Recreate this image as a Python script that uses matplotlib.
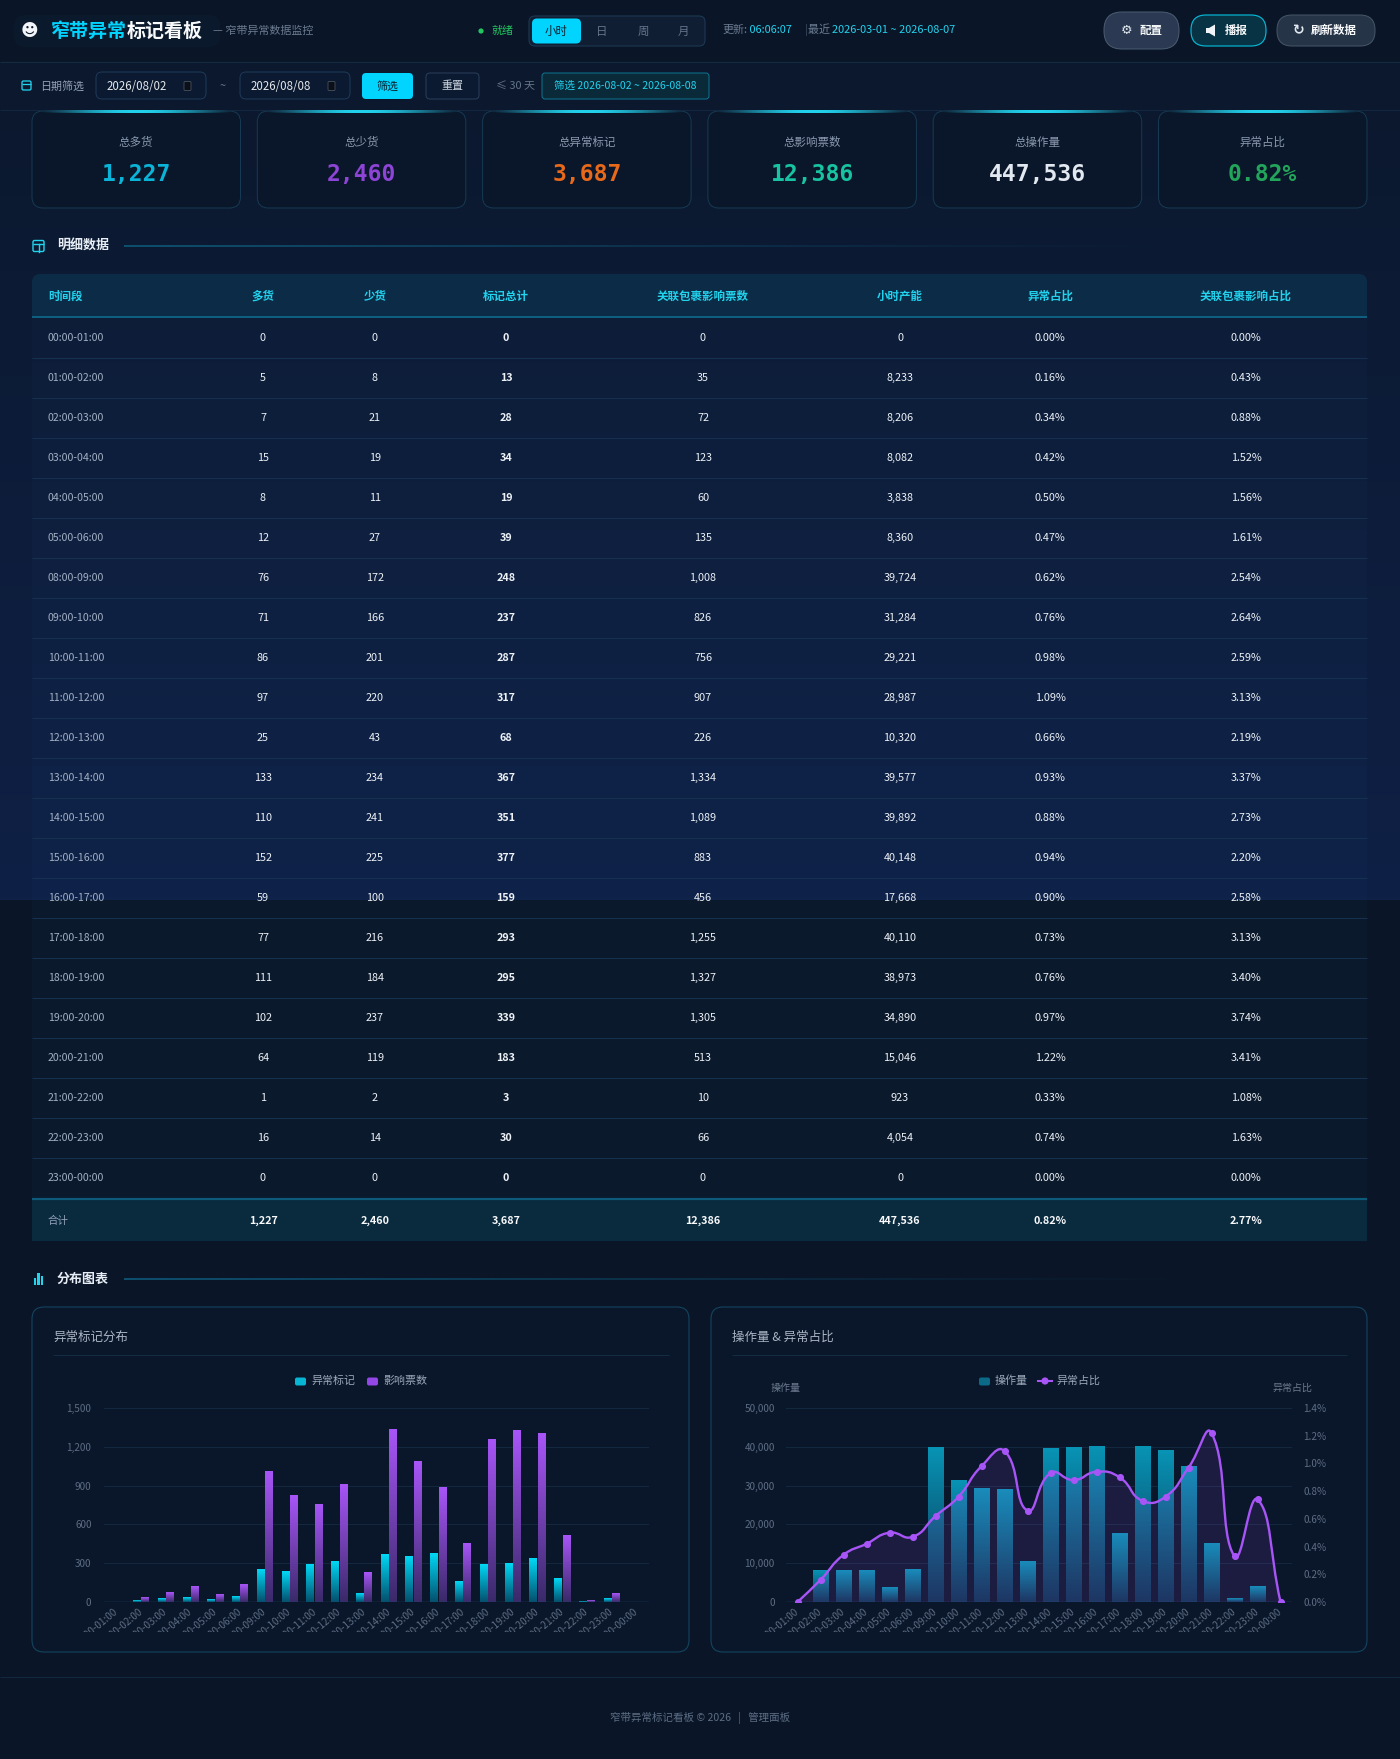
import numpy as np
import matplotlib

matplotlib.use("Agg")
import matplotlib.pyplot as plt
from matplotlib import transforms
from matplotlib.colors import to_rgb
from matplotlib.patches import FancyBboxPatch, Rectangle, Circle, PathPatch, Polygon
from matplotlib.path import Path

W, H = 1400, 1759

# ---- values ----
periods = ["00:00-01:00", "01:00-02:00", "02:00-03:00", "03:00-04:00", "04:00-05:00",
           "05:00-06:00", "08:00-09:00", "09:00-10:00", "10:00-11:00", "11:00-12:00",
           "12:00-13:00", "13:00-14:00", "14:00-15:00", "15:00-16:00", "16:00-17:00",
           "17:00-18:00", "18:00-19:00", "19:00-20:00", "20:00-21:00", "21:00-22:00",
           "22:00-23:00", "23:00-00:00"]
over_goods = [0, 5, 7, 15, 8, 12, 76, 71, 86, 97, 25, 133, 110, 152, 59, 77, 111, 102, 64, 1, 16, 0]
short_goods = [0, 8, 21, 19, 11, 27, 172, 166, 201, 220, 43, 234, 241, 225, 100, 216, 184, 237, 119, 2, 14, 0]
mark_total = [0, 13, 28, 34, 19, 39, 248, 237, 287, 317, 68, 367, 351, 377, 159, 293, 295, 339, 183, 3, 30, 0]
tickets = [0, 35, 72, 123, 60, 135, 1008, 826, 756, 907, 226, 1334, 1089, 883, 456, 1255, 1327, 1305, 513, 10, 66, 0]
capacity = [0, 8233, 8206, 8082, 3838, 8360, 39724, 31284, 29221, 28987, 10320, 39577, 39892, 40148,
            17668, 40110, 38973, 34890, 15046, 923, 4054, 0]
abn_rate = [0.00, 0.16, 0.34, 0.42, 0.50, 0.47, 0.62, 0.76, 0.98, 1.09, 0.66, 0.93, 0.88, 0.94,
            0.90, 0.73, 0.76, 0.97, 1.22, 0.33, 0.74, 0.00]
ticket_rate = [0.00, 0.43, 0.88, 1.52, 1.56, 1.61, 2.54, 2.64, 2.59, 3.13, 2.19, 3.37, 2.73, 2.20,
               2.58, 3.13, 3.40, 3.74, 3.41, 1.08, 1.63, 0.00]

kpi_labels = ["总多货", "总少货", "总异常标记", "总影响票数", "总操作量", "异常占比"]
kpi_values = ["1,227", "2,460", "3,687", "12,386", "447,536", "0.82%"]
table_cols = ["时间段", "多货", "少货", "标记总计", "关联包裹影响票数", "小时产能", "异常占比", "关联包裹影响占比"]
total_row = ["合计", "1,227", "2,460", "3,687", "12,386", "447,536", "0.82%", "2.77%"]
left_ticks = [0, 300, 600, 900, 1200, 1500]
vol_ticks = [0, 10000, 20000, 30000, 40000, 50000]
rate_ticks = [0.0, 0.2, 0.4, 0.6, 0.8, 1.0, 1.2, 1.4]

plt.rcParams["font.family"] = ["Noto Sans CJK SC", "DejaVu Sans"]

BG = "#0a1628"
CYAN = "#00d4ff"
kpi_colors = ["#0ab4d8", "#8e44d6", "#e8691a", "#17c3a2", "#e2e8f0", "#22a55a"]


def fs(px):
    return px * 0.72


fig = plt.figure(figsize=(W / 100, H / 100), dpi=100)
fig.patch.set_facecolor(BG)
cv = fig.add_axes([0, 0, 1, 1])
cv.set_axis_off()


def rbox(x, y, w, h, r, fc, ec="none", lw=1.0, z=2, alpha=1.0):
    p = FancyBboxPatch((x, y), w, h, boxstyle=f"round,pad=0,rounding_size={r}",
                       fc=fc, ec=ec, lw=lw * 0.72, zorder=z, alpha=alpha)
    cv.add_patch(p)
    return p


def txt(x, y, s, px, color, ha="left", va="center", weight="normal", family=None, z=6):
    kw = {"family": family} if family else {}
    return cv.text(x, y, s, fontsize=fs(px), color=color, ha=ha, va=va,
                   fontweight=weight, zorder=z, **kw)


def chain(prev, s, px, color, weight="normal", gap=0):
    return cv.annotate(s, xy=(1, 0.5), xycoords=prev, xytext=(gap, 0), textcoords="offset pixels",
                       ha="left", va="center", fontsize=fs(px), color=color, fontweight=weight, zorder=6)


def hline(x0, x1, y, color, lw=1.0, z=3, alpha=1.0):
    cv.plot([x0, x1], [y, y], color=color, lw=lw * 0.72, zorder=z, alpha=alpha, solid_capstyle="butt")


def fade_line(x0, x1, y, color, hgt=1.2, mode="out", z=3):
    n = 300
    t = np.linspace(0, 1, n)
    a = np.sin(np.pi * t) ** 1.3 if mode == "glow" else (1 - t) ** 1.2
    rgba = np.zeros((1, n, 4))
    rgba[..., :3] = to_rgb(color)
    rgba[0, :, 3] = a
    cv.imshow(rgba, extent=[x0, x1, y + hgt / 2, y - hgt / 2], aspect="auto", zorder=z,
              interpolation="bilinear")


# ---- page background ----
g = np.linspace(0, 1, 256)[:, None, None]
c0, c1 = np.array(to_rgb("#0b182d")), np.array(to_rgb("#0f2046"))
cv.imshow(c0 + (c1 - c0) * g, extent=[0, W, 900, 62], aspect="auto", zorder=0)
hline(0, W, 61.5, "#132a40", lw=1.2)
hline(0, W, 110, "#122740", lw=1)

# ---- header ----
rbox(14, 15, 206, 32, 12, "#12304a", z=1, alpha=0.12)
txt(30, 31, "☻", 17, "#f1f5f9", ha="center", family="DejaVu Sans")
t1 = txt(51, 31, "窄带异常", 19, CYAN, weight="bold")
t2 = chain(t1, "标记看板", 19, "#f8fafc", weight="bold")
chain(t2, "— 窄带异常数据监控", 11, "#6b7a90", gap=10)

cv.add_patch(Circle((481, 31), 2.6, fc="#22c55e", zorder=6))
txt(491, 31, "就绪", 11, "#22c55e")
rbox(529, 16, 176, 30, 6, "#101e33", ec="#1e3a55", lw=1)
rbox(532, 18.5, 49, 25, 5, CYAN, z=3)
txt(556, 31, "小时", 11.5, "#06202e", ha="center")
for lx, lab in zip([602, 643, 683], ["日", "周", "月"]):
    txt(lx, 31, lab, 11.5, "#64748b", ha="center")

u = txt(722, 30, "更新:", 11, "#6b7a90")
u = chain(u, " 06:06:07", 11, "#22d3ee")
u = chain(u, "  |", 11, "#3b4a60", gap=8)
u = chain(u, "最近 ", 11, "#6b7a90")
chain(u, "2026-03-01 ~ 2026-08-07", 11, "#22d3ee")

rbox(1104, 12, 75, 37, 18, "#2b3a52", ec="#4a5a70", lw=1)
txt(1127, 30.5, "⚙", 13, "#e2e8f0", ha="center", family="DejaVu Sans")
txt(1139, 30.5, "配置", 11.5, "#f8fafc", weight="bold")
rbox(1191, 15, 75, 31, 15, "#083344", ec="#06b6d4", lw=1.2)
cv.add_patch(Polygon([(1206, 28), (1209, 28), (1215, 24.5), (1215, 36.5), (1209, 33), (1206, 33)],
                     closed=True, fc="#f1f5f9", zorder=6))
txt(1225, 30.5, "播报", 11.5, "#f8fafc", weight="bold")
rbox(1277, 15, 98, 31, 15, "#263448", ec="#475569", lw=1)
txt(1299, 30.5, "↻", 14, "#e2e8f0", ha="center", weight="bold", family="DejaVu Sans")
txt(1311, 30.5, "刷新数据", 11.5, "#f8fafc", weight="bold")

# ---- filter row ----
rbox(22, 81, 9, 9, 1.5, "none", ec="#22d3ee", lw=1.3, z=6)
hline(22, 31, 84, "#22d3ee", lw=1.3, z=6)
txt(40, 86, "日期筛选", 11, "#94a3b8")
for bx, dtxt in [(96, "2026/08/02"), (240, "2026/08/08")]:
    rbox(bx, 72, 110, 27, 6, "#0b1a30", ec="#1e3a5a", lw=1)
    txt(bx + 11, 86, dtxt, 11.5, "#e5e7eb")
    rbox(bx + 88, 81.5, 7, 9, 1, "#0b0f18", ec="#4b5563", lw=0.8, z=6)
txt(223, 86, "~", 11, "#6b7a90", ha="center")
rbox(362, 73, 51, 26, 4, CYAN)
txt(387.5, 86, "筛选", 11, "#06202e", ha="center")
rbox(426, 73, 53, 26, 4, "#0b1a30", ec="#2a3f5a", lw=1)
txt(452.5, 86, "重置", 11, "#cbd5e1", ha="center")
txt(496, 86, "≤ 30 天", 11, "#64748b")
rbox(542, 73, 167, 26, 3, "#0a2a3a", ec="#0e7490", lw=1)
txt(625.5, 86, "筛选 2026-08-02 ~ 2026-08-08", 10.5, "#22d3ee", ha="center")

# ---- KPI cards ----
card_w, card_gap = 208.5, 16.8
for i, (lab, val, col) in enumerate(zip(kpi_labels, kpi_values, kpi_colors)):
    x = 32 + i * (card_w + card_gap)
    rbox(x, 111, card_w, 97, 11, "#0a1629", ec="#163a52", lw=1)
    fade_line(x + 8, x + card_w - 8, 111.5, "#22d3ee", hgt=2.5, mode="glow", z=4)
    txt(x + card_w / 2, 142, lab, 11.5, "#8b9ab0", ha="center")
    txt(x + card_w / 2, 174, val, 23, col, ha="center", weight="bold", family="DejaVu Sans Mono")


# ---- section heading ----
def section(y, title, icon):
    if icon == "table":
        rbox(33, y - 5.5, 11, 11, 1.5, "none", ec="#22d3ee", lw=1.4, z=6)
        hline(33, 44, y - 2, "#22d3ee", lw=1.4, z=6)
        cv.plot([38.5, 38.5], [y - 2, y + 5.5], color="#22d3ee", lw=1, zorder=6)
    else:
        for k, hh in enumerate([7, 12, 9]):
            cv.add_patch(Rectangle((33.5 + k * 3.6, y + 6 - hh), 2.6, hh, fc="#22d3ee", zorder=6))
    txt(57, y, title, 13, "#e8eef6", weight="bold")
    fade_line(124, 1200, y, "#0e4f6e", hgt=1.3)


section(246, "明细数据", "table")
section(1279, "分布图表", "chart")

# ---- table ----
col_x = [48, 263, 375, 506, 703, 900, 1050, 1246]
TX0, TW = 32, 1335
rbox(TX0, 274, TW, 43, 8, "#0b2b47", z=2)
cv.add_patch(Rectangle((TX0, 290), TW, 27, fc="#0b2b47", zorder=2))
hline(TX0, TX0 + TW, 317, "#0e5e80", lw=2)
for j, c in enumerate(table_cols):
    txt(col_x[j], 296, c, 11.5, "#22d3ee", ha="left" if j == 0 else "center", weight="bold")

cv.add_patch(Rectangle((TX0, 318), TW, 40 * len(periods), fc="#38bdf8", alpha=0.025, zorder=1))
for i, per in enumerate(periods):
    yc = 338 + 40 * i
    if i < len(periods) - 1:
        hline(TX0, TX0 + TW, yc + 20, "#16314f", lw=1)
    row = [per, f"{over_goods[i]:,}", f"{short_goods[i]:,}", f"{mark_total[i]:,}", f"{tickets[i]:,}",
           f"{capacity[i]:,}", f"{abn_rate[i]:.2f}%", f"{ticket_rate[i]:.2f}%"]
    for j, v in enumerate(row):
        if j == 0:
            txt(col_x[j], yc, v, 10.5, "#a3b1c4")
        else:
            txt(col_x[j], yc, v, 10.8, "#eef2f7", ha="center", weight="bold" if j == 3 else "medium")

cv.add_patch(Rectangle((TX0, 1199), TW, 42, fc="#0a2a3e", zorder=2))
hline(TX0, TX0 + TW, 1199, "#0e5a7a", lw=2.2)
for j, v in enumerate(total_row):
    if j == 0:
        txt(col_x[j], 1221, v, 10.5, "#94a3b8")
    else:
        txt(col_x[j], 1221, v, 10.8, "#f8fafc", ha="center", weight="bold")

# ---- chart cards ----
for cx, cw, title in [(32, 657, "异常标记分布"), (711, 656, "操作量 & 异常占比")]:
    rbox(cx, 1307, cw, 345, 12, "#0a1629", ec="#134560", lw=1.1)
    txt(cx + 21, 1337, title, 12.5, "#aab6c6")
    hline(cx + 21, cx + cw - 20, 1355, "#132c44", lw=1)

# legends
rbox(295, 1377.5, 11, 8, 2, "#06b6d4", z=6)
txt(311, 1381, "异常标记", 11, "#9aa8ba")
rbox(367, 1377.5, 11, 8, 2, "#9347e6", z=6)
txt(383, 1381, "影响票数", 11, "#9aa8ba")
rbox(979, 1377.5, 11, 8, 2, "#0b6a88", z=6)
txt(995, 1381, "操作量", 11, "#9aa8ba")
cv.plot([1038, 1052], [1381, 1381], color="#a855f7", lw=1.5, zorder=6)
cv.add_patch(Circle((1045, 1381), 3.6, fc="#a855f7", zorder=7))
txt(1056, 1381, "异常占比", 11, "#9aa8ba")
txt(786, 1388, "操作量", 10, "#6b7a90", ha="center")
txt(1292, 1388, "异常占比", 10, "#6b7a90", ha="center")

# footer
hline(0, W, 1677, "#12283e", lw=1)
txt(700, 1718, "窄带异常标记看板 © 2026   |   管理面板", 10.5, "#5d6d84", ha="center")

cv.set_xlim(0, W)
cv.set_ylim(H, 0)


# ---- chart axes ----
def style_axis(ax):
    ax.patch.set_visible(False)
    for s in ax.spines.values():
        s.set_visible(False)
    ax.tick_params(length=0, labelsize=fs(10), labelcolor="#5d6d84")
    ax.set_xticks([])


def grad_bar(ax, x, w, h, top, bottom, z=2):
    if h <= 0:
        return
    k = np.linspace(0, 1, 64)[:, None, None]
    ct, cb = np.array(to_rgb(top)), np.array(to_rgb(bottom))
    ax.imshow(ct + (cb - ct) * k, extent=[x - w / 2, x + w / 2, 0, h], aspect="auto",
              origin="upper", zorder=z, interpolation="bilinear")


def cat_labels(ax, x0, x1):
    clip = transforms.TransformedBbox(
        transforms.Bbox.from_extents(x0 / W, 1 - 1632 / H, x1 / W, 1 - 1603 / H), fig.transFigure)
    tr = transforms.offset_copy(ax.get_xaxis_transform(), fig=fig, x=0, y=-8, units="dots")
    for i, lab in enumerate(periods):
        t = ax.text(i, 0, lab, transform=tr, rotation=40, rotation_mode="anchor", ha="right",
                    va="center", fontsize=fs(10), color="#5d6d84")
        t.set_clip_path(None)
        t.set_clip_box(clip)
        t.set_clip_on(True)


xs = np.arange(len(periods))

# left: marks & tickets
ax1 = fig.add_axes([104 / W, 1 - 1602 / H, 545 / W, 194 / H])
style_axis(ax1)
for i in xs:
    grad_bar(ax1, i - 0.17, 0.32, mark_total[i], "#00d8f5", "#04506e")
    grad_bar(ax1, i + 0.17, 0.32, tickets[i], "#a855f7", "#3a2a6a")
ax1.set_xlim(-0.5, len(periods) - 0.5)
ax1.set_ylim(0, left_ticks[-1])
ax1.set_yticks(left_ticks)
ax1.set_yticklabels([f"{v:,}" for v in left_ticks])
ax1.tick_params(axis="y", pad=9)
ax1.yaxis.grid(True, color="#13283e", lw=0.8)
ax1.set_axisbelow(True)
ax1.axhline(0, color="#1c4d6c", lw=1, zorder=5)
cat_labels(ax1, 33, 688)

# right: volume & rate
ax3 = fig.add_axes([786 / W, 1 - 1602 / H, 506 / W, 194 / H])
style_axis(ax3)
for i in xs:
    grad_bar(ax3, i, 0.66, capacity[i], "#0893b4", "#0d3352")
ax3.set_xlim(-0.5, len(periods) - 0.5)
ax3.set_ylim(0, vol_ticks[-1])
ax3.set_yticks(vol_ticks)
ax3.set_yticklabels([f"{v:,}" for v in vol_ticks])
ax3.tick_params(axis="y", pad=8)
ax3.yaxis.grid(True, color="#13283e", lw=0.8)
ax3.set_axisbelow(True)
ax3.axhline(0, color="#1c4d6c", lw=1, zorder=5)
cat_labels(ax3, 712, 1366)

ax4 = ax3.twinx()
style_axis(ax4)
ax4.set_xlim(-0.5, len(periods) - 0.5)
ax4.set_ylim(0, rate_ticks[-1])
ax4.set_yticks(rate_ticks)
ax4.set_yticklabels([f"{v:.1f}%" for v in rate_ticks])
ax4.tick_params(axis="y", pad=8)


def smooth_curve(ax, x, y, smooth=0.5):
    pts = ax.transData.transform(np.column_stack([x, y]))
    n = len(pts)
    cps = []
    for i in range(n):
        cur, prv, nxt = pts[i], pts[max(i - 1, 0)], pts[min(i + 1, n - 1)]
        v = nxt - prv
        d0, d1 = np.hypot(*(cur - prv)), np.hypot(*(nxt - cur))
        s = d0 + d1
        if s:
            d0, d1 = d0 / s, d1 / s
        cps.append((cur - v * smooth * d0, cur + v * smooth * d1))
    verts = [pts[0]]
    for i in range(n - 1):
        verts += [cps[i][1], cps[i + 1][0], pts[i + 1]]
    return ax.transData.inverted().transform(np.array(verts))


cverts = smooth_curve(ax4, xs, abn_rate)
ccodes = [Path.MOVETO] + [Path.CURVE4] * (len(cverts) - 1)
area_v = np.vstack([cverts, [[xs[-1], 0], [xs[0], 0], [xs[0], 0]]])
area_c = ccodes + [Path.LINETO, Path.LINETO, Path.CLOSEPOLY]
ax4.add_patch(PathPatch(Path(area_v, area_c), fc="#a855f7", ec="none", alpha=0.11, zorder=3))
ax4.add_patch(PathPatch(Path(cverts, ccodes), fc="none", ec="#a855f7", lw=1.7, zorder=4))
ax4.scatter(xs, abn_rate, s=26, color="#a855f7", zorder=5, linewidths=0)

fig.savefig("out.png", dpi=100, facecolor=fig.get_facecolor())
